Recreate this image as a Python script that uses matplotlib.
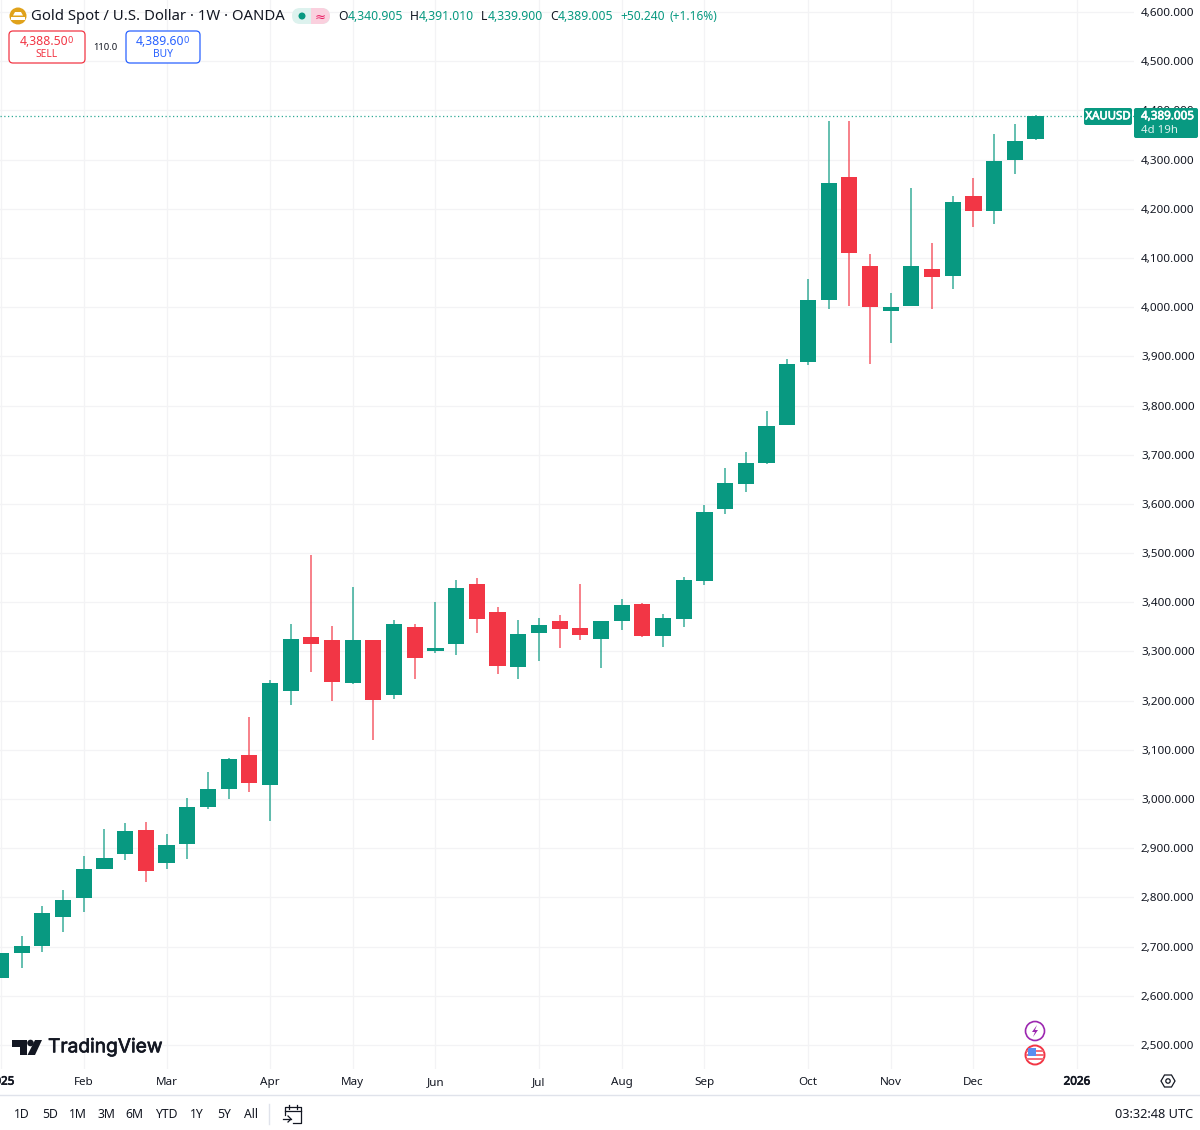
import matplotlib
matplotlib.use("Agg")
import matplotlib.pyplot as plt
import matplotlib.patheffects as pe
from matplotlib.patches import Circle, FancyBboxPatch, Polygon, Rectangle, Wedge

plt.rcParams['font.family'] = ['Noto Sans', 'DejaVu Sans']

# weekly candles
OPEN = [2637, 2686, 2701, 2761, 2799, 2858, 2888, 2938, 2869, 2909, 2984, 3020, 3090, 3028,
        3220, 3329, 3323, 3235, 3323, 3211, 3349, 3300, 3315, 3438, 3380, 3269, 3338, 3361,
        3347, 3326, 3362, 3396, 3332, 3366, 3443, 3590, 3640, 3684, 3761, 3888, 4015, 4265,
        4084, 3992, 4002, 4077, 4064, 4225, 4196, 4299, 4340.905]
HIGH = [2687, 2722, 2783, 2815, 2884, 2940, 2952, 2953, 2928, 3003, 3055, 3084, 3166, 3242,
        3355, 3497, 3351, 3432, 3323, 3363, 3355, 3401, 3445, 3450, 3390, 3363, 3367, 3375,
        3437, 3362, 3407, 3398, 3376, 3451, 3598, 3673, 3705, 3789, 3895, 4057, 4379, 4379,
        4107, 4029, 4243, 4130, 4225, 4262, 4351, 4373, 4391.01]
LOW = [2636, 2656, 2688, 2729, 2771, 2857, 2877, 2832, 2858, 2879, 2980, 3000, 3014, 2955,
       3192, 3259, 3199, 3234, 3119, 3204, 3243, 3297, 3292, 3338, 3255, 3243, 3281, 3308,
       3324, 3267, 3344, 3329, 3310, 3350, 3435, 3579, 3625, 3682, 3760, 3882, 3996, 4002,
       3885, 3927, 4002, 3996, 4037, 4162, 4168, 4271, 4339.9]
CLOSE = [2686, 2701, 2768, 2795, 2858, 2880, 2934, 2854, 2906, 2983, 3020, 3082, 3033, 3236,
         3325, 3316, 3237, 3323, 3201, 3355, 3287, 3308, 3430, 3365, 3271, 3335, 3353, 3346,
         3334, 3361, 3394, 3332, 3369, 3446, 3584, 3642, 3683, 3758, 3884, 4015, 4252, 4111,
         4000, 4000, 4084, 4062, 4213, 4196, 4298, 4337, 4389.005]

MONTH_POS = [0, 4, 8, 13, 17, 21, 26, 30, 34, 39, 43, 47, 52]
MONTH_LABELS = ["2025", "Feb", "Mar", "Apr", "May", "Jun", "Jul", "Aug", "Sep", "Oct", "Nov", "Dec", "2026"]
PRICE_TICKS = [2500, 2600, 2700, 2800, 2900, 3000, 3100, 3200, 3300, 3400, 3500,
               3600, 3700, 3800, 3900, 4000, 4100, 4200, 4300, 4400, 4500, 4600]
RANGES = ["1D", "5D", "1M", "3M", "6M", "YTD", "1Y", "5Y", "All"]
RANGE_X = [22, 50, 78, 106, 134, 166, 197, 224, 251]

GREEN = "#089981"
RED = "#F23645"
BLUE = "#2962FF"
GRID = "#f3f3f5"
TEXT = "#131722"

W, H = 1200, 1130
fig = plt.figure(figsize=(W / 100, H / 100), dpi=100, facecolor="white")

# main chart, right edge 1134 px, bottom edge 1069 px
ax = fig.add_axes([0, 1 - 1069 / H, 1134 / W, 1069 / H])
ax.set_xlim(-0.048, 54.76)
ax.set_ylim(4600 - 1057 * 2.033, 4600 + 12 * 2.033)
for s in ax.spines.values():
    s.set_visible(False)

ax.set_axisbelow(True)
ax.grid(True, color=GRID, lw=0.9)
ax.set_xticks(MONTH_POS)
ax.set_xticklabels(MONTH_LABELS, fontsize=8.4, color=TEXT)
thick = [pe.withStroke(linewidth=0.5, foreground=TEXT)]
ax.get_xticklabels()[0].set_path_effects(thick)
ax.get_xticklabels()[-1].set_path_effects(thick)
ax.tick_params(axis="x", length=0, pad=5.5)
ax.yaxis.tick_right()
ax.set_yticks(PRICE_TICKS)
ax.set_yticklabels([f"{p:,.3f}" for p in PRICE_TICKS], fontsize=8.4, color=TEXT)
ax.tick_params(axis="y", length=0, pad=5)

for i in range(len(OPEN)):
    col = GREEN if CLOSE[i] >= OPEN[i] else RED
    ax.vlines(i, LOW[i], HIGH[i], color=col, lw=1.1, alpha=0.8, zorder=2)
    ax.bar(i, abs(CLOSE[i] - OPEN[i]), bottom=min(OPEN[i], CLOSE[i]), width=0.78,
           color=col, lw=0, zorder=3)

ax.axhline(CLOSE[-1], color=GREEN, lw=0.9, ls=(0, (1, 2)), alpha=0.85, zorder=4)

# interface elements on top, in pixel coordinates
ui = fig.add_axes([0, 0, 1, 1], facecolor="none")
ui.set_xlim(0, W)
ui.set_ylim(H, 0)
ui.axis("off")


def label(x, y, s, size=8.4, color=TEXT, ha="left", bold=False, **kw):
    t = ui.text(x, y + 0.8, s, fontsize=size, color=color, ha=ha, va="center", **kw)
    if bold:
        t.set_path_effects([pe.withStroke(linewidth=0.5, foreground=color)])


def round_box(x0, y0, x1, y1, r=3, **kw):
    ui.add_patch(FancyBboxPatch((x0 + r, y0 + r), x1 - x0 - 2 * r, y1 - y0 - 2 * r,
                                boxstyle=f"round,pad={r},rounding_size={r}", **kw))


# header
ui.add_patch(Circle((18, 16), 8.5, color="#E0A21B", lw=0))
ui.add_patch(Polygon([[15, 12], [21, 12], [23, 15.5], [13, 15.5]], color="white", lw=0))
ui.add_patch(Rectangle((11, 17), 14, 2.5, color="white", lw=0))
label(31, 16, "Gold Spot / U.S. Dollar · 1W · OANDA", size=10.7)

round_box(292, 8, 330, 24, r=8, fc="#DDF2EE", ec="none")
ui.add_patch(Wedge((322, 16), 8, -90, 90, color="#FAD0DE", lw=0))
ui.add_patch(Rectangle((311, 8), 11, 16, color="#FAD0DE", lw=0))
ui.add_patch(Circle((302, 16), 3.5, color=GREEN, lw=0))
label(320, 16, "≈", size=9.5, color="#E91E63", ha="center")

for x, s, x2, v in [(338, "O", 348, "4,340.905"), (410, "H", 419, "4,391.010"),
                    (481, "L", 488, "4,339.900"), (550, "C", 558, "4,389.005")]:
    label(x, 16, s, size=8.8)
    label(x2, 16, v, size=8.8, color=GREEN)
label(620, 16, "+50.240", size=8.6, color=GREEN)
label(669, 16, "(+1.16%)", size=8.6, color=GREEN)

# sell / buy buttons
round_box(9, 31, 85, 63, r=4, fc="white", ec=RED, lw=0.9)
label(20, 41, "4,388.50", size=8.8, color=RED)
label(68, 40, "0", size=6.5, color=RED)
label(47, 54, "SELL", size=7.4, color=RED, ha="center")
label(105, 47, "110.0", size=6.8, ha="center")
round_box(126, 31, 200, 63, r=4, fc="white", ec=BLUE, lw=0.9)
label(136, 41, "4,389.60", size=8.8, color=BLUE)
label(184, 40, "0", size=6.5, color=BLUE)
label(163, 54, "BUY", size=7.4, color=BLUE, ha="center")

# last price tags
round_box(1084, 108, 1132, 125, r=2, fc=GREEN, ec="none")
label(1108, 116, "XAUUSD", size=8.2, color="white", ha="center", bold=True)
round_box(1134, 108, 1198, 138, r=2, fc=GREEN, ec="none")
label(1141, 116, f"{CLOSE[-1]:,.3f}", size=8.4, color="white", bold=True)
label(1141, 129.5, "4d 19h", size=8.2, color="#DDF2EE")

# TradingView logo
ui.add_patch(Polygon([[12, 1040], [27, 1040], [27, 1055], [20, 1055], [20, 1047], [12, 1047]],
                     color=TEXT, lw=0))
ui.add_patch(Circle((30.5, 1043), 3.3, color=TEXT, lw=0))
ui.add_patch(Polygon([[35, 1040], [42, 1040], [35, 1055], [27.5, 1055]], color=TEXT, lw=0))
label(48, 1046.5, "TradingView", size=13.8, family="Inter", bold=True)

# event badges
ui.add_patch(Circle((1035, 1031), 9.5, fc="white", ec="#9C27B0", lw=1.2))
ui.add_patch(Polygon([[1037, 1025], [1032, 1032], [1035, 1032], [1033, 1037], [1038, 1030], [1035, 1030]],
                     color="#9C27B0", lw=0))
flag = Circle((1035, 1055), 9.5, fc="white", ec=RED, lw=1.4)
ui.add_patch(flag)
for y0 in [1050, 1054, 1058]:
    stripe = Rectangle((1026, y0), 18, 2.2, color="#F4707C", lw=0)
    ui.add_patch(stripe)
    stripe.set_clip_path(flag)
canton = Rectangle((1028, 1048), 8, 7.5, color="#5B8DEF", lw=0)
ui.add_patch(canton)
canton.set_clip_path(flag)

# time axis gear
ui.add_patch(Polygon([[1161, 1081], [1164.5, 1075], [1171.5, 1075], [1175, 1081], [1171.5, 1087], [1164.5, 1087]],
                     fc="white", ec=TEXT, lw=0.9))
ui.add_patch(Circle((1168, 1081), 2.2, fc="white", ec=TEXT, lw=0.9))

# bottom toolbar
ui.plot([0, W], [1095, 1095], color="#E0E3EB", lw=1)
for x, s in zip(RANGE_X, RANGES):
    label(x, 1114, s, size=8.8, ha="center")
ui.plot([269, 269], [1104, 1124], color="#E0E3EB", lw=1)
ui.plot([285, 285, 301, 301, 293], [1115, 1107, 1107, 1123, 1123], color=TEXT, lw=0.9)
ui.plot([285, 301], [1111, 1111], color=TEXT, lw=0.9)
ui.plot([289, 289], [1105, 1109], color=TEXT, lw=0.9)
ui.plot([297, 297], [1105, 1109], color=TEXT, lw=0.9)
ui.plot([283, 291], [1119, 1119], color=TEXT, lw=0.9)
ui.plot([288, 291, 288], [1116, 1119, 1122], color=TEXT, lw=0.9)
label(1193, 1114, "03:32:48 UTC", size=9.2, ha="right")

fig.savefig("out.png", dpi=100, facecolor="white")
